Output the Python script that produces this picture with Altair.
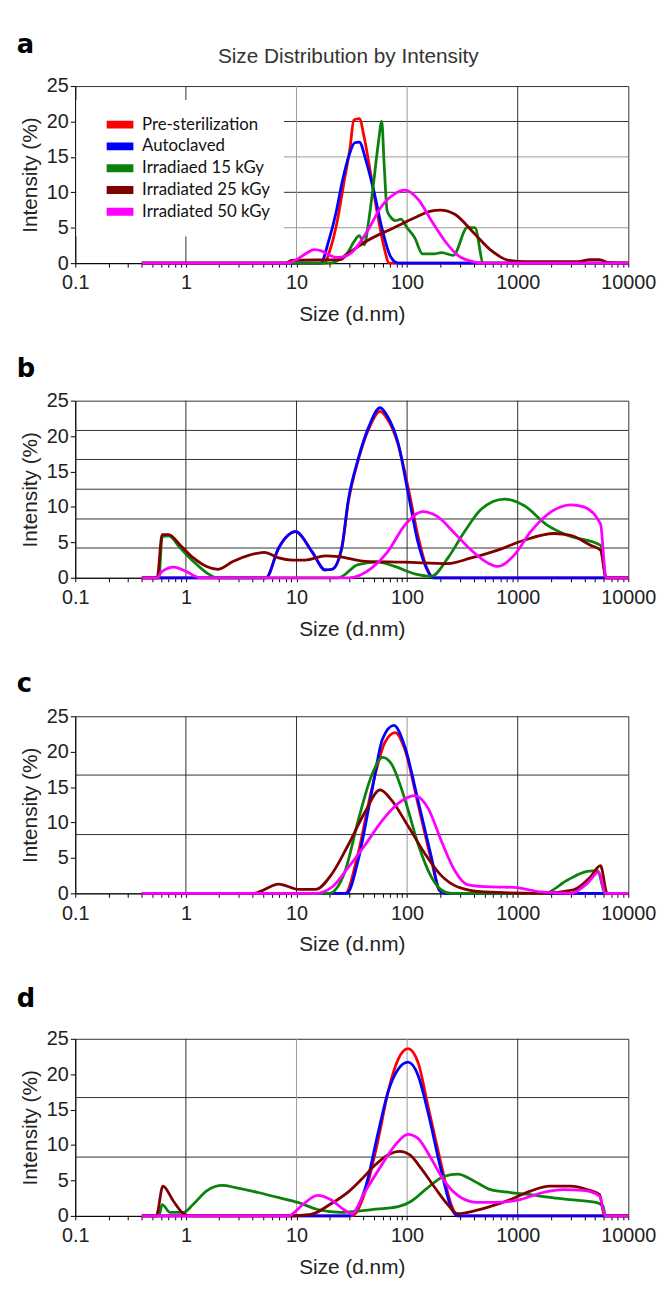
import altair as alt
import pandas as pd

SERIES = ["Pre-sterilization", "Autoclaved", "Irradiaed 15 kGy",
          "Irradiated 25 kGy", "Irradiated 50 kGy"]
COLORS = ["#ff0000", "#0000ff", "#0c820c", "#800000", "#ff00ff"]

# ---------------- panel a ----------------
a_pre_x = [0.4, 17.7, 20.4, 23.4, 27, 30.5, 33, 37, 41, 47, 54, 62, 69, 10000]
a_pre_y = [0, 0, 2.2, 6, 11.6, 16.3, 20.2, 20.4, 17.7, 12.5, 6.9, 2.2, 0, 0]
a_auto_x = [0.4, 16.5, 19.6, 22.6, 26, 30, 33.6, 37, 42.6, 50, 60, 71, 83, 10000]
a_auto_y = [0, 0, 3.2, 6.9, 11.6, 15.3, 17, 17.1, 14.4, 10.2, 4.6, 0.9, 0, 0]
a_15_x = [0.4, 20, 25, 29, 33, 37, 41, 45, 50, 55, 59, 62, 66, 71, 78, 88,
          100, 117, 138, 175, 205, 262, 350, 410, 490, 10000]
a_15_y = [0, 0, 0.6, 1.5, 3.0, 3.9, 2.6, 6.0, 11.6, 17.0, 20.0, 14.0, 7.4,
          6.5, 6.0, 6.2, 5.0, 3.6, 1.3, 1.3, 1.5, 1.1, 5.0, 5.0, 0, 0]
a_25_x = [0.4, 8, 9, 25, 29, 44, 76, 117, 160, 200, 270, 410, 575, 830,
          1200, 3500, 4500, 5500, 6500, 10000]
a_25_y = [0, 0, 0.4, 0.5, 1.3, 3.2, 5.0, 6.4, 7.3, 7.5, 6.9, 4.1, 1.8, 0.4,
          0.2, 0.2, 0.5, 0.5, 0.1, 0]
a_50_x = [0.4, 8.2, 10, 12, 14.4, 17, 20, 23.4, 28, 33, 44, 58, 76, 95, 126,
          166, 218, 288, 410, 500, 10000]
a_50_y = [0, 0, 0.5, 1.3, 1.9, 1.7, 1.1, 0.8, 1.0, 1.8, 4.6, 7.9, 9.7, 10.3,
          9.0, 6.0, 3.2, 1.1, 0.15, 0, 0]

# ---------------- panel b ----------------
b_pre_x = [0.4, 5.3, 6.9, 9.8, 13.8, 18.2, 21, 25.6, 29.5, 36, 45, 57, 67,
           83, 102, 125, 149, 175, 10000]
b_pre_y = [0, 0, 4.2, 6.5, 3.7, 1.1, 1.2, 4.0, 10.8, 16.5, 21.0, 23.5, 22.3,
           18.8, 12.8, 6.0, 1.6, 0, 0]
b_auto_x = [0.4, 5.3, 6.9, 9.8, 13.8, 18.2, 21, 25.6, 29.5, 36, 45, 57, 67,
            83, 102, 125, 149, 172, 10000]
b_auto_y = [0, 0, 4.2, 6.5, 3.7, 1.1, 1.2, 4.2, 11.1, 16.7, 21.3, 24.0, 22.7,
            19.0, 12.0, 5.1, 1.4, 0, 0]
b_15_x = [0.4, 0.57, 0.61, 0.7, 0.89, 1.17, 1.54, 1.9, 24, 36, 55, 77, 117,
          166, 234, 330, 470, 760, 1140, 1860, 2800, 5600, 6300, 10000]
b_15_y = [0, 0, 5.8, 5.9, 4.2, 2.3, 0.7, 0, 0, 1.85, 2.2, 1.6, 0.55, 0.2,
          2.8, 6.5, 9.7, 11.1, 10.2, 7.4, 6.0, 4.6, 0, 0]
b_25_x = [0.4, 0.55, 0.61, 0.7, 0.89, 1.17, 1.54, 1.96, 2.66, 3.75, 5.1, 6.9,
          9.1, 12, 18.2, 24, 42, 95, 234, 380, 660, 1140, 2140, 3000, 4550,
          5600, 6300, 10000]
b_25_y = [0, 0, 6.1, 6.1, 4.6, 2.8, 1.6, 1.2, 2.3, 3.2, 3.6, 2.8, 2.5, 2.5,
          3.1, 3.0, 2.3, 2.2, 2.0, 2.8, 3.9, 5.3, 6.25, 6.0, 4.6, 3.9, 0, 0]
b_50_x = [0.4, 0.55, 0.6, 0.78, 1.0, 1.35, 30, 48, 67, 95, 139, 190, 270, 380,
          535, 660, 930, 1310, 2000, 3000, 3960, 5600, 6300, 10000]
b_50_y = [0, 0, 0.8, 1.5, 0.9, 0, 0, 1.4, 3.7, 7.4, 9.35, 8.6, 6.25, 3.9,
          2.1, 1.6, 3.2, 6.5, 9.3, 10.3, 10.0, 7.6, 0, 0]

# ---------------- panel c ----------------
c_pre_x = [0.4, 27.6, 36, 48, 63, 78, 95, 126, 166, 195, 220, 10000]
c_pre_y = [0, 0, 5.6, 14.8, 21.3, 22.7, 20.4, 12.5, 4.6, 0.5, 0, 0]
c_auto_x = [0.4, 28.5, 36, 48, 60, 76, 95, 126, 166, 195, 219, 10000]
c_auto_y = [0, 0, 4.6, 14.4, 21.8, 23.7, 20.8, 13.0, 5.1, 0.5, 0, 0]
c_15_x = [0.4, 19.6, 27.6, 36, 48, 60, 72, 95, 126, 166, 204, 250, 1740,
          2800, 4250, 5250, 6200, 10000]
c_15_y = [0, 0, 3.2, 10.2, 16.7, 19.2, 18.3, 13.4, 6.9, 2.3, 0.5, 0, 0,
          1.85, 3.1, 3.2, 0, 0]
c_25_x = [0.4, 4.1, 4.6, 6.9, 10.5, 14.8, 21, 29.5, 42, 57, 72, 102, 145,
          204, 288, 500, 1620, 3200, 4540, 5600, 6450, 10000]
c_25_y = [0, 0, 0.2, 1.3, 0.55, 0.55, 2.8, 6.9, 11.6, 14.6, 13.2, 9.5, 5.6,
          2.5, 0.9, 0.2, 0, 0.5, 2.3, 3.9, 0, 0]
c_50_x = [0.4, 14.8, 21, 29.5, 42, 59, 83, 117, 155, 204, 270, 355, 575, 925,
          1620, 3000, 4250, 5400, 6200, 10000]
c_50_y = [0, 0, 0.9, 3.7, 6.9, 10.2, 12.7, 13.8, 12.0, 7.4, 3.2, 1.2, 0.9,
          0.85, 0.2, 0, 1.4, 3.0, 0, 0]

# ---------------- panel d ----------------
d_pre_x = [0.4, 31.6, 42, 55, 67, 83, 102, 126, 154, 204, 250, 287, 10000]
d_pre_y = [0, 0, 3.5, 10.9, 17.4, 22.1, 23.6, 21.6, 15.6, 7.2, 1.6, 0, 0]
d_auto_x = [0.4, 29.6, 42, 55, 67, 83, 102, 126, 154, 204, 250, 287, 10000]
d_auto_y = [0, 0, 4.0, 11.9, 17.4, 20.7, 21.7, 19.8, 14.7, 6.3, 1.2, 0, 0]
d_15_x = [0.4, 0.57, 0.61, 0.72, 0.95, 1.16, 1.53, 2.14, 2.8, 4.5, 6.8, 10.3,
          15.5, 25, 48, 83, 110, 154, 217, 287, 405, 570, 860, 1300, 1950,
          2960, 5100, 5900, 6200, 10000]
d_15_y = [0, 0, 1.6, 0.5, 0.5, 1.6, 3.5, 4.3, 4.0, 3.3, 2.6, 1.9, 0.9, 0.5,
          0.9, 1.3, 2.1, 4.0, 5.6, 5.9, 4.9, 3.7, 3.3, 3.0, 2.6, 2.3, 1.9,
          1.4, 0, 0]
d_25_x = [0.4, 0.54, 0.62, 0.77, 0.95, 1.08, 8.9, 13.5, 20, 30, 40, 50, 67,
          86, 106, 134, 178, 233, 287, 353, 532, 860, 1300, 1950, 2960, 4470,
          5500, 6100, 10000]
d_25_y = [0, 0, 4.2, 2.1, 0.3, 0, 0, 0.2, 1.6, 3.5, 5.4, 7.0, 8.6, 9.1, 8.6,
          6.7, 4.0, 1.6, 0.3, 0.5, 1.2, 2.3, 3.5, 4.2, 4.2, 3.6, 3.0, 0, 0]
d_50_x = [0.4, 8.4, 11.4, 15.5, 20.3, 26.7, 31.6, 42, 59, 78, 102, 126, 165,
          217, 306, 432, 650, 1050, 1700, 2580, 3900, 5500, 6200, 10000]
d_50_y = [0, 0, 1.6, 2.9, 2.3, 0.9, 0.3, 3.5, 7.2, 10.0, 11.5, 10.9, 8.1,
          4.9, 2.6, 1.9, 1.9, 2.3, 3.3, 3.7, 3.6, 2.8, 0, 0]

# axis ticks / grid lines
x_major = [0.1, 1, 10, 100, 1000, 10000]
x_minor = [m * d for d in (0.1, 1, 10, 100, 1000) for m in range(2, 10)]
y_ticks = [0, 5, 10, 15, 20, 25]
grid_x_all = [1, 10, 100, 1000]

FONT = "Liberation Sans"
W, H = 559, 179

XS = alt.Scale(type="log", domain=[0.1, 10000])
YS = alt.Scale(domain=[0, 25])
XAX = alt.Axis(values=x_major + x_minor, title="Size (d.nm)",
               labelExpr="indexof(['0.1','1','10','100','1000','10000'], toString(datum.value)) >= 0 ? toString(datum.value) : ''",
               tickSize=4, labelPadding=6, labelFontSize=20,
               titleFontSize=21, titlePadding=11, grid=False,
               labelOverlap=False, labelFlush=False)
YAX = alt.Axis(values=y_ticks, title="Intensity (%)",
               tickSize=5, labelPadding=2, labelFontSize=20,
               titleFontSize=21, titlePadding=6, grid=False)


def frame(pairs):
    rows = []
    for name, (xs, ys) in zip(SERIES, pairs):
        for x, y in zip(xs, ys):
            rows.append({"size": x, "intensity": y, "series": name})
    return pd.DataFrame(rows)


def hrules(vals, color):
    return alt.Chart(pd.DataFrame({"intensity": vals})).mark_rule(
        color=color, strokeWidth=1).encode(
        y=alt.Y("intensity:Q", scale=YS, axis=YAX))


def vrules(vals, color):
    return alt.Chart(pd.DataFrame({"size": vals})).mark_rule(
        color=color, strokeWidth=1).encode(
        x=alt.X("size:Q", scale=XS, axis=XAX))


def panel(letter, df, h_dark, h_light, v_dark, v_light, offset, legend=False,
          heading=None):
    layers = []
    if h_light:
        layers.append(hrules(h_light, "#9a9a9a"))
    if h_dark:
        layers.append(hrules(h_dark, "#303030"))
    if v_light:
        layers.append(vrules(v_light, "#9a9a9a"))
    if v_dark:
        layers.append(vrules(v_dark, "#303030"))

    if legend:
        leg = alt.Legend(
            title=None, orient="none", legendX=1, legendY=14,
            fillColor="white", padding=14,
            symbolType="M-4,0L4,0", symbolSize=45.6, symbolStrokeWidth=8,
            symbolOffset=21.75, labelOffset=13.75, clipHeight=22,
            labelFont="Lato", labelFontSize=17, labelColor="#111",
            rowPadding=0)
    else:
        leg = None

    lines = alt.Chart(df).mark_line(strokeWidth=2.8, interpolate="monotone").encode(
        x=alt.X("size:Q", scale=XS, axis=XAX),
        y=alt.Y("intensity:Q", scale=YS, axis=YAX),
        color=alt.Color("series:N", scale=alt.Scale(domain=SERIES, range=COLORS),
                        legend=leg),
    )
    layers.append(lines)
    if heading:
        layers.append(
            alt.Chart(pd.DataFrame({"t": [heading]})).mark_text(
                font=FONT, fontSize=21, color="#333", baseline="middle").encode(
                text="t:N", x=alt.value(276), y=alt.value(-29)))
    return alt.layer(*layers).properties(
        width=W, height=H,
        title=alt.TitleParams(letter, anchor="start", fontSize=26,
                              fontWeight="bold", font="DejaVu Sans", color="#000",
                              dx=-3, offset=offset, baseline="alphabetic"))


pa = panel("a", frame([(a_pre_x, a_pre_y), (a_auto_x, a_auto_y), (a_15_x, a_15_y),
                       (a_25_x, a_25_y), (a_50_x, a_50_y)]),
           [10, 20], [5, 15], [1, 1000], [10, 100], -33, legend=True,
           heading="Size Distribution by Intensity")
pb = panel("b", frame([(b_pre_x, b_pre_y), (b_auto_x, b_auto_y), (b_15_x, b_15_y),
                       (b_25_x, b_25_y), (b_50_x, b_50_y)]),
           [4.2, 8.3, 12.5, 16.7, 20.8], [], grid_x_all, [], -12)
pc = panel("c", frame([(c_pre_x, c_pre_y), (c_auto_x, c_auto_y), (c_15_x, c_15_y),
                       (c_25_x, c_25_y), (c_50_x, c_50_y)]),
           [8.3, 16.7], [], [1, 10, 1000], [100], -11)
pd_ = panel("d", frame([(d_pre_x, d_pre_y), (d_auto_x, d_auto_y), (d_15_x, d_15_y),
                        (d_25_x, d_25_y), (d_50_x, d_50_y)]),
            [8.3, 16.7], [], [1, 1000], [10, 100], -4)

chart = alt.vconcat(pa, pb, pc, pd_, spacing=30).resolve_scale(
    color="independent").resolve_legend(color="independent").properties(
    padding={"left": 8, "top": 17, "right": 0, "bottom": 4},
    background="white",
).configure_view(stroke="#333", strokeWidth=1).configure_axis(
    domainColor="#000", tickColor="#000", labelFont=FONT, titleFont=FONT,
    labelColor="#222", titleColor="#222", titleFontWeight="normal")

chart.save("out.html", embed_options={"renderer": "svg", "actions": False})
